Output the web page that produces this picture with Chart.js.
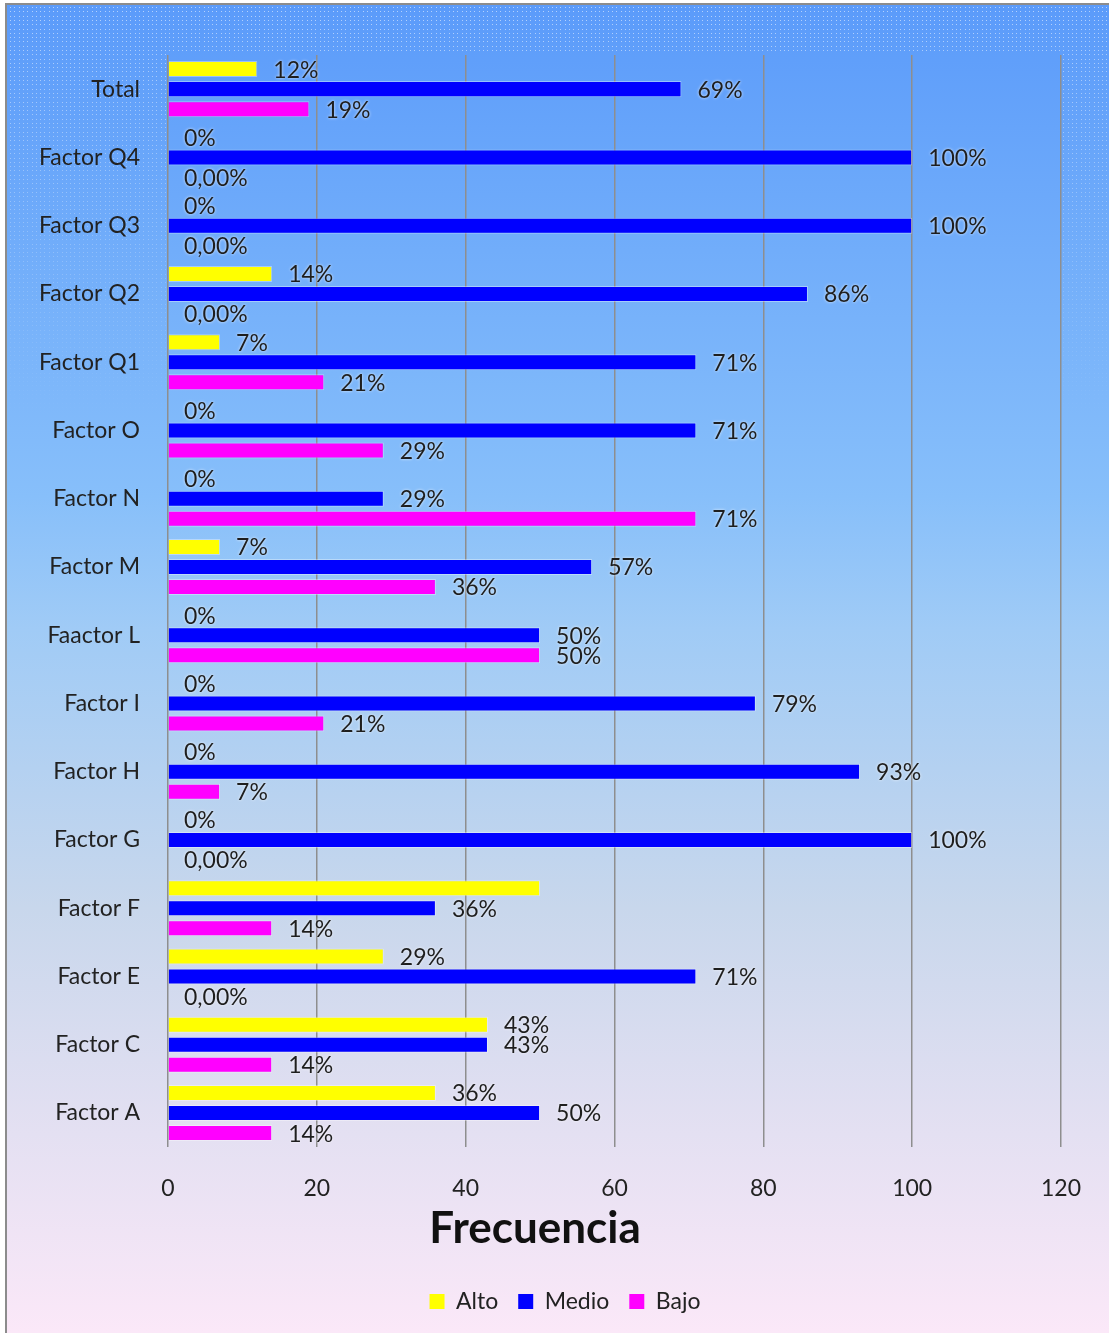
<!DOCTYPE html>
<html><head><meta charset="utf-8">
<script src="https://cdn.jsdelivr.net/npm/chart.js@4/dist/chart.umd.min.js"></script>
<style>html,body{margin:0;padding:0;background:#fff}</style>
</head><body>
<canvas id="c" width="1109" height="1333"></canvas>
<script>
const categories = ['Total','Factor Q4','Factor Q3','Factor Q2','Factor Q1','Factor O','Factor N','Factor M','Faactor L','Factor I','Factor H','Factor G','Factor F','Factor E','Factor C','Factor A'];
const alto  = [12, 0, 0, 14, 7, 0, 0, 7, 0, 0, 0, 0, 50, 29, 43, 36];
const medio = [69, 100, 100, 86, 71, 71, 29, 57, 50, 79, 93, 100, 36, 71, 43, 50];
const bajo  = [19, 0, 0, 0, 21, 29, 71, 36, 50, 21, 7, 0, 14, 0, 14, 14];
const altoLabels  = ['12%','0%','0%','14%','7%','0%','0%','7%','0%','0%','0%','0%','','29%','43%','36%'];
const medioLabels = ['69%','100%','100%','86%','71%','71%','29%','57%','50%','79%','93%','100%','36%','71%','43%','50%'];
const bajoLabels  = ['19%','0,00%','0,00%','0,00%','21%','29%','71%','36%','50%','21%','7%','0,00%','14%','0,00%','14%','14%'];
const xTicks = [0, 20, 40, 60, 80, 100, 120];
const seriesNames = ['Alto', 'Medio', 'Bajo'];

const FONT = 'Lato, "Open Sans", sans-serif';

const bgPlugin = {
  id: 'bg',
  afterLayout(chart) {
    if (chart.legend) { chart.legend.left += 30; chart.legend.right += 30; }
  },
  beforeDraw(chart) {
    const {ctx, width, height, chartArea: a} = chart;
    ctx.save();
    ctx.fillStyle = '#fff';
    ctx.fillRect(0, 0, width, height);
    const g = ctx.createLinearGradient(0, 5, 0, height);
    g.addColorStop(0, '#5b9bfa');
    g.addColorStop(0.37, '#87bffa');
    g.addColorStop(0.47, '#a0cbf6');
    g.addColorStop(0.68, '#c8d7ec');
    g.addColorStop(0.85, '#e4e0f2');
    g.addColorStop(1, '#fbe8f8');
    ctx.fillStyle = g;
    ctx.fillRect(7, 5, width - 7, height - 5);
    for (let y = 7; y < 420; y += 4.3) {
      const al = 0.55 * Math.max(0, 1 - y / 420);
      ctx.fillStyle = 'rgba(255,255,255,' + al.toFixed(3) + ')';
      for (let x = 10; x < width; x += 4.3) {
        if (x > a.left - 1 && x < a.right + 1 && y > a.top - 1 && y < a.bottom) continue;
        ctx.fillRect(Math.round(x), Math.round(y), 1, 1);
      }
    }
    ctx.strokeStyle = '#8c8c8c';
    ctx.lineWidth = 2;
    ctx.beginPath();
    ctx.moveTo(6, height);
    ctx.lineTo(6, 4);
    ctx.lineTo(width, 4);
    ctx.stroke();
    ctx.restore();
  }
};

const labelsBySeries = [altoLabels, medioLabels, bajoLabels];
const labelPlugin = {
  id: 'barLabels',
  afterDatasetsDraw(chart) {
    const {ctx} = chart;
    ctx.save();
    ctx.font = '23px ' + FONT;
    ctx.fillStyle = '#1e1e1e';
    ctx.textAlign = 'left';
    ctx.textBaseline = 'middle';
    ctx.shadowColor = 'rgba(255,255,255,0.8)';
    ctx.shadowBlur = 3;
    chart.data.datasets.forEach((ds, i) => {
      const meta = chart.getDatasetMeta(i);
      meta.data.forEach((el, j) => {
        const txt = labelsBySeries[i][j];
        if (!txt) return;
        ctx.fillText(txt, el.x + 16, el.y + 1);
      });
    });
    ctx.restore();
  }
};

new Chart(document.getElementById('c'), {
  type: 'bar',
  data: {
    labels: categories,
    datasets: [
      {label: seriesNames[0], data: alto, backgroundColor: '#ffff00', borderColor: 'rgba(255,255,255,0.35)', borderWidth: 1},
      {label: seriesNames[1], data: medio, backgroundColor: '#0000ff', borderColor: 'rgba(255,255,255,0.35)', borderWidth: 1},
      {label: seriesNames[2], data: bajo, backgroundColor: '#ff00ff', borderColor: 'rgba(255,255,255,0.35)', borderWidth: 1}
    ]
  },
  options: {
    indexAxis: 'y',
    responsive: false,
    animation: false,
    events: [],
    layout: {padding: {left: 8, top: 55, right: 47, bottom: 10}},
    datasets: {bar: {categoryPercentage: 0.88, barPercentage: 0.8}},
    scales: {
      x: {
        min: 0, max: 120,
        afterBuildTicks(scale) { scale.ticks = xTicks.map(v => ({value: v})); },
        afterFit(scale) { scale.height = 50; },
        ticks: {font: {family: FONT, size: 23}, color: '#222', padding: 28},
        grid: {color: '#8e8e8e', lineWidth: 1.5, drawTicks: false},
        border: {display: false}
      },
      y: {
        afterFit(scale) { scale.width = 160; },
        ticks: {font: {family: FONT, size: 23}, color: '#222', padding: 20, autoSkip: false},
        grid: {display: false},
        border: {display: false}
      }
    },
    plugins: {
      legend: {
        position: 'bottom',
        labels: {
          font: {family: FONT, size: 23}, color: '#222',
          boxWidth: 15, boxHeight: 15, padding: 20,
          generateLabels(chart) {
            return chart.data.datasets.map((d, i) => ({
              text: d.label, fillStyle: d.backgroundColor, strokeStyle: d.backgroundColor, lineWidth: 0, datasetIndex: i, fontColor: '#222'
            }));
          }
        }
      },
      title: {
        display: true, text: 'Frecuencia', position: 'bottom', weight: 500,
        font: {family: FONT, size: 44, weight: 'bold'}, color: '#111',
        padding: {top: 5, bottom: 15}
      },
      tooltip: {enabled: false}
    }
  },
  plugins: [bgPlugin, labelPlugin]
});
</script>
</body></html>
